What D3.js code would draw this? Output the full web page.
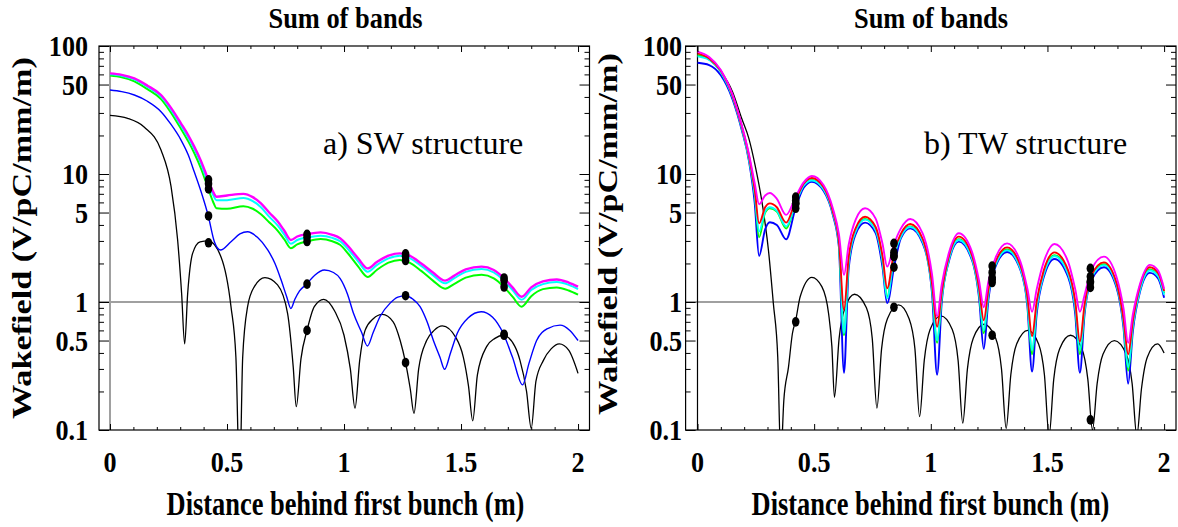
<!DOCTYPE html>
<html>
<head>
<meta charset="utf-8">
<script src="https://cdn.jsdelivr.net/npm/d3@7"></script>
<style>
  body { margin: 0; background: #fff; }
  svg { display: block; }
  .bold { font-family: "Liberation Serif", "Times New Roman", serif; font-weight: bold; }
  .plain { font-family: "Liberation Serif", "Times New Roman", serif; }
</style>
</head>
<body>
<svg id="chart" width="1178" height="527"></svg>
<script>
// ---- tick labels / shared ----
const xTickLabels = [0, 0.5, 1, 1.5, 2];
const xMinorTicks = [0.1, 0.2, 0.3, 0.4, 0.6, 0.7, 0.8, 0.9, 1.1, 1.2, 1.3, 1.4, 1.6, 1.7, 1.8, 1.9];
const yTickLabels = [0.1, 0.5, 1, 5, 10, 50, 100];
const yMinorTicks = [0.2, 0.3, 0.4, 0.6, 0.7, 0.8, 0.9, 2, 3, 4, 6, 7, 8, 9, 20, 30, 40, 60, 70, 80, 90];
const bunchX = [0.421, 0.842, 1.263, 1.684];

// ---- a) SW structure ----
const swX = [0, 0.05, 0.104, 0.16, 0.218, 0.26, 0.303, 0.335, 0.36, 0.39, 0.42, 0.44, 0.455, 0.5, 0.57, 0.61,
  0.645, 0.68, 0.717, 0.745, 0.773, 0.8, 0.845, 0.9, 0.95, 0.983, 1.02, 1.06, 1.101, 1.14, 1.19, 1.239,
  1.28, 1.33, 1.38, 1.432, 1.47, 1.52, 1.588, 1.64, 1.68, 1.72, 1.759, 1.8, 1.85, 1.909, 1.96, 2.0];
const swMagenta = [61.1, 59.5, 55.8, 49, 41.4, 33, 24.9, 20, 16.4, 12.5, 9.0, 7.3, 6.65, 6.8, 7.0, 6.6,
  5.9, 5.0, 4.25, 3.6, 3.05, 3.25, 3.4, 3.5, 3.35, 3.15, 2.7, 2.2, 1.83, 2.05, 2.3, 2.4,
  2.3, 2.0, 1.7, 1.47, 1.6, 1.8, 1.89, 1.78, 1.56, 1.3, 1.1, 1.3, 1.45, 1.5, 1.42, 1.32];
const swCyan = [60.1, 58.5, 54.8, 48, 40.4, 32, 24, 19.2, 15.7, 11.9, 8.4, 6.9, 6.25, 6.25, 6.5, 6.15,
  5.5, 4.65, 3.95, 3.36, 2.85, 3.05, 3.2, 3.3, 3.17, 2.98, 2.55, 2.08, 1.72, 1.94, 2.19, 2.3,
  2.2, 1.91, 1.62, 1.4, 1.53, 1.72, 1.81, 1.7, 1.49, 1.24, 1.04, 1.24, 1.38, 1.43, 1.36, 1.26];
const swGreen = [58.7, 57, 53, 46, 38.5, 30.3, 22.6, 17.9, 14.6, 10.9, 7.65, 6.1, 5.4, 5.35, 5.6, 5.35,
  4.85, 4.2, 3.6, 3.08, 2.63, 2.82, 2.98, 3.1, 2.98, 2.8, 2.36, 1.9, 1.57, 1.78, 2.03, 2.13,
  2.03, 1.75, 1.47, 1.27, 1.38, 1.55, 1.63, 1.53, 1.33, 1.1, 0.92, 1.11, 1.26, 1.3, 1.23, 1.14];
const swBlueX = [0, 0.05, 0.104, 0.16, 0.218, 0.26, 0.303, 0.335, 0.36, 0.39, 0.42, 0.446, 0.472, 0.517,
  0.555, 0.588, 0.63, 0.674, 0.705, 0.731, 0.755, 0.773, 0.79, 0.81, 0.84, 0.875, 0.916, 0.955, 0.983,
  1.015, 1.04, 1.075, 1.1, 1.125, 1.154, 1.197, 1.23, 1.263, 1.295, 1.325, 1.355, 1.382, 1.41, 1.43,
  1.455, 1.484, 1.53, 1.586, 1.635, 1.68, 1.72, 1.763, 1.79, 1.823, 1.87, 1.923, 1.965, 2.0];
const swBlue = [45.3, 44, 41.4, 37, 30.7, 24.5, 18.5, 14, 10.4, 7.2, 4.7, 2.96, 2.55, 2.96,
  3.4, 3.54, 3.2, 2.55, 2.0, 1.49, 1.1, 0.89, 1.05, 1.22, 1.38, 1.62, 1.78, 1.7, 1.53,
  1.15, 0.82, 0.58, 0.453, 0.58, 0.77, 0.98, 1.09, 1.12, 1.05, 0.92, 0.7, 0.5, 0.37, 0.298,
  0.4, 0.57, 0.75, 0.84, 0.76, 0.57, 0.37, 0.225, 0.33, 0.5, 0.62, 0.66, 0.6, 0.5];
const swBlackX = [0, 0.0755, 0.147, 0.218, 0.261, 0.289, 0.306, 0.319, 0.332, 0.353, 0.385, 0.42, 0.474,
  0.517, 0.538, 0.554, 0.567, 0.588, 0.617, 0.662, 0.716, 0.759, 0.783, 0.796, 0.816, 0.842, 0.873,
  0.913, 0.96, 1.0, 1.027, 1.047, 1.067, 1.09, 1.125, 1.164, 1.21, 1.24, 1.263, 1.283, 1.299, 1.319,
  1.353, 1.385, 1.42, 1.48, 1.51, 1.532, 1.55, 1.57, 1.61, 1.645, 1.68, 1.73, 1.752, 1.78, 1.8, 1.82,
  1.852, 1.885, 1.92, 1.96, 2.0];
const swBlack = [28.7, 27.2, 23.2, 15.4, 7.96, 3.05, 1.17, 0.47, 1.17, 2.4, 2.95, 3.0, 2.26,
  0.92, 0.37, 0.04, 0.37, 0.92, 1.32, 1.55, 1.36, 0.81, 0.31, 0.152, 0.36, 0.6, 0.92,
  1.05, 0.85, 0.55, 0.3, 0.148, 0.35, 0.6, 0.74, 0.8, 0.7, 0.5, 0.336, 0.21, 0.135, 0.3,
  0.5, 0.6, 0.65, 0.52, 0.37, 0.22, 0.118, 0.27, 0.45, 0.52, 0.55, 0.45, 0.35, 0.2, 0.103, 0.24,
  0.35, 0.43, 0.47, 0.42, 0.277];
const swDotMagenta = [9.0, 3.38, 2.38, 1.54];
const swDotCyan = [8.4, 3.2, 2.28, 1.47];
const swDotGreen = [7.65, 2.97, 2.11, 1.31];
const swDotBlue = [4.7, 1.38, 1.12, 0.56];
const swDotBlack = [2.9, 0.6, 0.336, 0.55];

// ---- b) TW structure ----
const twX = [0, 0.05, 0.1, 0.15, 0.19, 0.22, 0.245, 0.264, 0.29, 0.31, 0.34, 0.38, 0.42, 0.455, 0.49,
  0.54, 0.58, 0.606, 0.628, 0.648, 0.678, 0.718, 0.763, 0.793, 0.813, 0.843, 0.872, 0.912, 0.965, 1.005,
  1.027, 1.047, 1.077, 1.12, 1.177, 1.207, 1.227, 1.247, 1.277, 1.327, 1.384, 1.414, 1.434, 1.454, 1.484,
  1.53, 1.589, 1.619, 1.639, 1.659, 1.689, 1.742, 1.796, 1.826, 1.846, 1.866, 1.896, 1.939, 1.975, 2.0];
const twMagenta = [90.3, 82, 65, 42, 24, 14.5, 8.5, 5.8, 6.8, 7.1, 6.4, 4.79, 6.6, 8.6, 9.65,
  8.2, 5.4, 3.4, 1.63, 2.8, 4.4, 5.4, 4.5, 2.85, 1.89, 2.85, 3.76, 4.45, 3.43, 1.66,
  0.77, 1.37, 2.4, 3.44, 2.45, 1.46, 0.91, 1.45, 2.2, 2.87, 2.07, 1.27, 0.84, 1.26, 2.05,
  2.84, 2.05, 1.26, 0.84, 1.13, 1.8, 2.26, 1.57, 0.89, 0.48, 0.8, 1.37, 1.95, 1.75, 1.27];
const twRed = [87.6, 80, 64, 41, 23.5, 14, 7.6, 4.12, 5.5, 5.9, 5.5, 4.17, 6.2, 8.4, 9.3,
  7.9, 5.1, 3.0, 0.87, 2.24, 3.78, 4.64, 3.87, 2.28, 1.28, 2.48, 3.42, 4.07, 3.12, 1.4,
  0.64, 1.2, 2.26, 3.24, 2.3, 1.28, 0.72, 1.25, 2.05, 2.67, 1.93, 1.1, 0.54, 1.01, 1.76,
  2.44, 1.76, 1.01, 0.49, 0.95, 1.62, 2.04, 1.41, 0.74, 0.39, 0.71, 1.32, 1.87, 1.68, 1.22];
const twGreen = [85, 79, 63, 40.5, 23, 13.5, 7.1, 3.2, 5.0, 5.4, 5.1, 3.75, 5.9, 8.2, 9.0,
  7.7, 5.0, 2.9, 0.55, 2.07, 3.61, 4.45, 3.69, 2.1, 1.1, 2.34, 3.31, 3.9, 3.02, 1.31,
  0.48, 1.11, 2.16, 3.1, 2.2, 1.18, 0.57, 1.18, 1.98, 2.57, 1.86, 1.03, 0.39, 0.93, 1.68,
  2.32, 1.68, 0.93, 0.39, 0.88, 1.57, 1.97, 1.37, 0.7, 0.29, 0.66, 1.26, 1.8, 1.61, 1.17];
const twCyan = [83, 78, 62.5, 40, 22.8, 13.3, 7.0, 3.55, 5.1, 5.5, 5.15, 3.9, 5.85, 8.1, 8.9,
  7.6, 4.95, 2.85, 0.57, 2.04, 3.56, 4.4, 3.65, 2.08, 1.07, 2.3, 3.25, 3.85, 2.97, 1.29,
  0.5, 1.1, 2.14, 3.05, 2.18, 1.17, 0.6, 1.15, 1.95, 2.53, 1.82, 1.0, 0.42, 0.91, 1.64,
  2.28, 1.64, 0.91, 0.42, 0.87, 1.55, 1.94, 1.35, 0.69, 0.31, 0.65, 1.23, 1.76, 1.58, 1.14];
const twBlue = [74, 71, 59, 38.5, 22, 12.8, 6.0, 2.29, 3.7, 4.2, 4.0, 3.09, 5.4, 7.8, 8.7,
  7.4, 4.8, 2.7, 0.28, 1.83, 3.39, 4.17, 3.47, 1.87, 0.98, 1.9, 3.16, 3.76, 2.88, 1.19,
  0.27, 1.0, 2.06, 2.96, 2.11, 1.07, 0.43, 1.05, 1.88, 2.46, 1.78, 0.93, 0.286, 0.81, 1.56,
  2.17, 1.56, 0.81, 0.28, 0.8, 1.49, 1.87, 1.3, 0.63, 0.23, 0.59, 1.19, 1.69, 1.52, 1.08];
const twBlackX = [0, 0.05, 0.1, 0.15, 0.19, 0.22, 0.247, 0.275, 0.304, 0.325, 0.344, 0.357, 0.37, 0.39,
  0.407, 0.421, 0.44, 0.49, 0.533, 0.562, 0.576, 0.587, 0.607, 0.632, 0.673, 0.724, 0.749, 0.769, 0.789,
  0.814, 0.862, 0.907, 0.932, 0.952, 0.972, 0.997, 1.043, 1.092, 1.117, 1.137, 1.157, 1.182, 1.228,
  1.278, 1.303, 1.323, 1.343, 1.368, 1.416, 1.462, 1.487, 1.507, 1.527, 1.552, 1.599, 1.648, 1.673,
  1.693, 1.713, 1.738, 1.787, 1.838, 1.863, 1.883, 1.903, 1.928, 1.972, 2.0];
const twBlack = [84, 78, 63, 44, 27, 19, 11.7, 6.27, 2.55, 0.98, 0.37, 0.06, 0.17, 0.31,
  0.57, 0.72, 1.1, 1.56, 1.32, 0.81, 0.45, 0.18, 0.52, 0.9, 1.15, 0.9, 0.52, 0.148, 0.43,
  0.74, 0.95, 0.74, 0.43, 0.127, 0.35, 0.61, 0.78, 0.61, 0.35, 0.113, 0.3, 0.52, 0.67,
  0.52, 0.3, 0.103, 0.27, 0.47, 0.6, 0.47, 0.27, 0.09, 0.25, 0.43, 0.55, 0.43, 0.25,
  0.1, 0.23, 0.39, 0.5, 0.39, 0.23, 0.09, 0.21, 0.37, 0.47, 0.4];
const twDotMagenta = [6.6, 2.87, 1.91, 1.83];
const twDotRed = [6.2, 2.45, 1.7, 1.58];
const twDotGreen = [5.9, 2.3, 1.55, 1.45];
const twDotCyan = [5.85, 2.26, 1.5, 1.42];
const twDotBlue = [5.4, 1.87, 1.42, 1.3];
const twDotBlack = [0.7, 0.91, 0.55, 0.12];

const svg = d3.select('#chart');

const panels = [
  {
    id: 'sw', xDomain: [-0.047, 2.049], xRange: [99, 589.5],
    titleX: 345.5, yLabelX: 31, yLabelY: 238, tickLabelX: 88, xLabelX: 345.5,
    note: 'a) SW structure', noteX: 323, zeroColor: '#a0a0a0', zeroWidth: 2,
    series: [
      { xs: swBlackX, ys: swBlack, color: '#000', width: 1.3 },
      { xs: swBlueX, ys: swBlue, color: '#0000ff', width: 1.4 },
      { xs: swX, ys: swGreen, color: '#00ff00', width: 2 },
      { xs: swX, ys: swCyan, color: '#00ffff', width: 2 },
      { xs: swX, ys: swMagenta, color: '#ff00ff', width: 2.4 }
    ],
    dots: [swDotMagenta, swDotCyan, swDotGreen, swDotBlue, swDotBlack]
  },
  {
    id: 'tw', xDomain: [-0.051, 2.051], xRange: [685.6, 1176],
    titleX: 931, yLabelX: 617, yLabelY: 234, tickLabelX: 682, xLabelX: 930.5,
    note: 'b) TW structure', noteX: 924, zeroColor: '#000', zeroWidth: 1.2,
    series: [
      { xs: twBlackX, ys: twBlack, color: '#000', width: 1.3 },
      { xs: twX, ys: twBlue, color: '#0000ff', width: 1.9 },
      { xs: twX, ys: twGreen, color: '#00ff00', width: 1.9 },
      { xs: twX, ys: twCyan, color: '#00ffff', width: 1.9 },
      { xs: twX, ys: twRed, color: '#ff0000', width: 1.9 },
      { xs: twX, ys: twMagenta, color: '#ff00ff', width: 1.9 }
    ],
    dots: [twDotMagenta, twDotRed, twDotGreen, twDotCyan, twDotBlue, twDotBlack]
  }
];

const yTop = 46, yBottom = 430;

panels.forEach(p => {
  const x = d3.scaleLinear().domain(p.xDomain).range(p.xRange);
  const y = d3.scaleLog().domain([0.1, 100]).range([yBottom, yTop]);
  const left = p.xRange[0], right = p.xRange[1];
  const g = svg.append('g').attr('class', p.id);

  g.append('clipPath').attr('id', 'clip-' + p.id)
    .append('rect')
    .attr('x', left).attr('y', yTop)
    .attr('width', right - left).attr('height', yBottom - yTop);

  // reference lines at y = 1 and x = 0
  g.append('line')
    .attr('x1', left).attr('x2', right)
    .attr('y1', y(1)).attr('y2', y(1))
    .attr('stroke', '#a0a0a0').attr('stroke-width', 2);
  g.append('line')
    .attr('x1', x(0)).attr('x2', x(0))
    .attr('y1', yTop).attr('y2', yBottom)
    .attr('stroke', p.zeroColor).attr('stroke-width', p.zeroWidth);

  // curves
  const line = d3.line()
    .x(d => x(d[0]))
    .y(d => y(Math.max(d[1], 0.02)))
    .curve(d3.curveMonotoneX);
  const plot = g.append('g').attr('clip-path', `url(#clip-${p.id})`);
  p.series.forEach(s => {
    plot.append('path')
      .datum(d3.zip(s.xs, s.ys))
      .attr('d', line)
      .attr('fill', 'none')
      .attr('stroke', s.color)
      .attr('stroke-width', s.width)
      .attr('stroke-linejoin', 'round');
  });

  // bunch markers
  p.dots.forEach(vals => {
    plot.selectAll(null)
      .data(d3.zip(bunchX, vals))
      .enter()
      .append('ellipse')
      .attr('cx', d => x(d[0]))
      .attr('cy', d => y(d[1]))
      .attr('rx', 3.8).attr('ry', 4.8)
      .attr('fill', '#000');
  });

  // frame with inward ticks on all sides
  const axes = [
    { gen: d3.axisBottom(x), t: `translate(0,${yBottom})`, major: xTickLabels, minor: xMinorTicks, len: [6, 3] },
    { gen: d3.axisTop(x), t: `translate(0,${yTop})`, major: xTickLabels, minor: xMinorTicks, len: [6, 3] },
    { gen: d3.axisLeft(y), t: `translate(${left},0)`, major: yTickLabels, minor: yMinorTicks, len: [10, 5] },
    { gen: d3.axisRight(y), t: `translate(${right},0)`, major: yTickLabels, minor: yMinorTicks, len: [10, 5] }
  ];
  axes.forEach(a => {
    [[a.major, a.len[0]], [a.minor, a.len[1]]].forEach(([vals, len]) => {
      const ax = g.append('g')
        .attr('transform', a.t)
        .call(a.gen.tickValues(vals).tickSize(-len).tickSizeOuter(0).tickFormat(''));
      ax.select('.domain').remove();
      ax.selectAll('line').attr('stroke', '#000').attr('stroke-width', 1);
    });
  });
  g.append('rect')
    .attr('x', left).attr('y', yTop)
    .attr('width', right - left).attr('height', yBottom - yTop)
    .attr('fill', 'none').attr('stroke', '#000').attr('stroke-width', 1.2);

  // tick labels
  g.selectAll(null)
    .data(yTickLabels)
    .enter()
    .append('text')
    .attr('class', 'bold')
    .attr('font-size', 30)
    .attr('text-anchor', 'end')
    .attr('transform', d => `translate(${p.tickLabelX},${y(d) + 10}) scale(0.87,1)`)
    .text(d => String(d));
  g.selectAll(null)
    .data(xTickLabels)
    .enter()
    .append('text')
    .attr('class', 'bold')
    .attr('font-size', 30)
    .attr('text-anchor', 'middle')
    .attr('transform', d => `translate(${x(d)},472) scale(0.87,1)`)
    .text(d => String(d));

  // titles
  g.append('text')
    .attr('class', 'bold')
    .attr('font-size', 30)
    .attr('text-anchor', 'middle')
    .attr('transform', `translate(${p.titleX},28) scale(0.88,1)`)
    .text('Sum of bands');
  g.append('text')
    .attr('class', 'bold')
    .attr('font-size', 33)
    .attr('text-anchor', 'middle')
    .attr('transform', `translate(${p.xLabelX},515) scale(0.8,1)`)
    .text('Distance behind first bunch (m)');
  g.append('text')
    .attr('class', 'bold')
    .attr('font-size', 33)
    .attr('text-anchor', 'middle')
    .attr('textLength', 362)
    .attr('lengthAdjust', 'spacingAndGlyphs')
    .attr('transform', `translate(${p.yLabelX},${p.yLabelY}) rotate(-90) scale(1,0.8)`)
    .text('Wakefield (V/pC/mm/m)');
  g.append('text')
    .attr('class', 'plain')
    .attr('font-size', 32)
    .attr('x', p.noteX).attr('y', 154)
    .text(p.note);
});
</script>
</body>
</html>
